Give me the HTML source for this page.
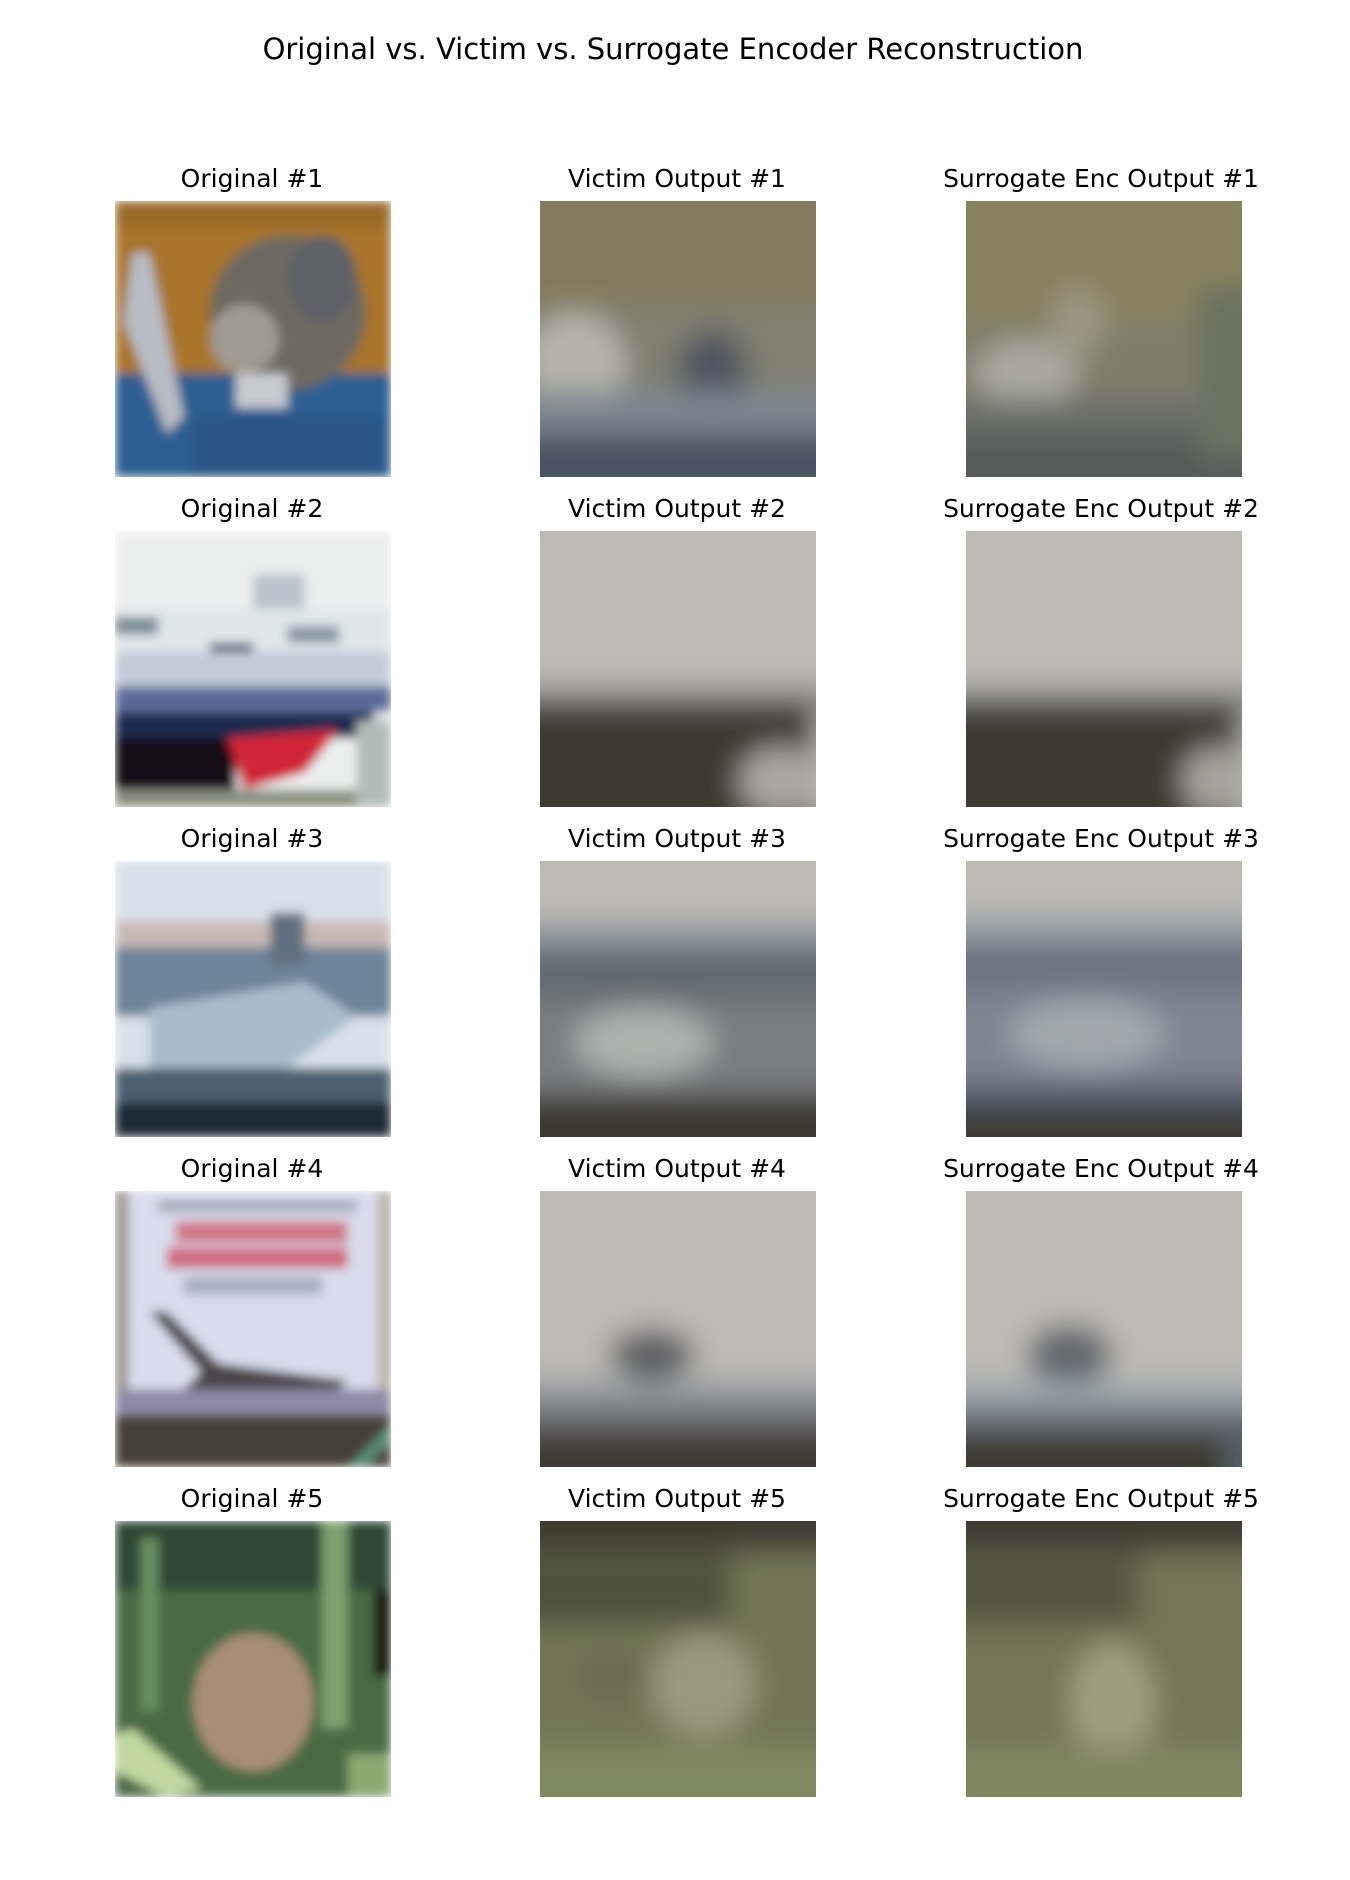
<!DOCTYPE html>
<html><head><meta charset="utf-8"><style>
html,body{margin:0;padding:0;background:#fff;}
svg text{font-family:"DejaVu Sans","Liberation Sans",sans-serif;fill:#000;}
</style></head><body>
<svg width="1350" height="1875" viewBox="0 0 1350 1875" xmlns="http://www.w3.org/2000/svg">
<defs>
<filter id="bl" x="-20%" y="-20%" width="140%" height="140%"><feGaussianBlur stdDeviation="1.6"/></filter>
<filter id="bs" x="-20%" y="-20%" width="140%" height="140%"><feGaussianBlur stdDeviation="0.6"/></filter>
<clipPath id="cp"><rect x="0" y="0" width="32" height="32"/></clipPath>
</defs>
<text x="673" y="59" font-size="29" text-anchor="middle">Original vs. Victim vs. Surrogate Encoder Reconstruction</text>

<!-- Row 1 -->
<text x="252" y="187" font-size="25" text-anchor="middle">Original #1</text>
<text x="677" y="187" font-size="25" text-anchor="middle">Victim Output #1</text>
<text x="1101" y="187" font-size="25" text-anchor="middle">Surrogate Enc Output #1</text>
<svg x="115" y="201" width="276" height="276" viewBox="0 0 32 32" preserveAspectRatio="none">
<g clip-path="url(#cp)" filter="url(#bs)">
<rect width="32" height="32" fill="#a8752a"/>
<rect y="0" width="32" height="3" fill="#9a6a2a"/>
<rect y="20" width="32" height="12" fill="#2f5f92"/>
<ellipse cx="20" cy="13" rx="9" ry="9" fill="#6e6a62"/>
<ellipse cx="24" cy="9" rx="4" ry="5" fill="#5e6268"/>
<ellipse cx="15" cy="16" rx="4" ry="4" fill="#a09a90"/>
<polygon points="2,6 4,6 8,25 6,27 1,14" fill="#b8bcc4"/>
<rect x="9" y="25" width="22" height="7" fill="#2a5585"/>
<rect x="14" y="20" width="6" height="4" fill="#c8cad0"/>
</g></svg>
<svg x="540" y="201" width="276" height="276" viewBox="0 0 32 32" preserveAspectRatio="none">
<g clip-path="url(#cp)" filter="url(#bl)">
<rect x="-4" y="-4" width="40" height="40" fill="#857a5e"/>
<rect x="-4" y="12" width="40" height="12" fill="#80806f"/>
<ellipse cx="4" cy="19" rx="6" ry="6" fill="#b5b4aa"/>
<ellipse cx="20" cy="20" rx="4" ry="5" fill="#4f5560"/>
<rect x="-4" y="22" width="40" height="5" fill="#7d8690"/>
<rect x="-4" y="27" width="40" height="9" fill="#4a5563"/>
</g></svg>
<svg x="966" y="201" width="276" height="276" viewBox="0 0 32 32" preserveAspectRatio="none">
<g clip-path="url(#cp)" filter="url(#bl)">
<rect x="-4" y="-4" width="40" height="40" fill="#88815f"/>
<rect x="-4" y="14" width="40" height="10" fill="#807e6a"/>
<ellipse cx="7" cy="20" rx="6" ry="4" fill="#a8a89c"/>
<ellipse cx="13" cy="14" rx="3" ry="4" fill="#9c9684"/>
<rect x="-4" y="23" width="40" height="4" fill="#6c6f6a"/>
<rect x="-4" y="27" width="40" height="9" fill="#555c5a"/>
<rect x="27" y="10" width="8" height="20" fill="#6b7260"/>
</g></svg>

<!-- Row 2 -->
<text x="252" y="517" font-size="25" text-anchor="middle">Original #2</text>
<text x="677" y="517" font-size="25" text-anchor="middle">Victim Output #2</text>
<text x="1101" y="517" font-size="25" text-anchor="middle">Surrogate Enc Output #2</text>
<svg x="115" y="531" width="276" height="276" viewBox="0 0 32 32" preserveAspectRatio="none">
<g clip-path="url(#cp)" filter="url(#bs)">
<rect width="32" height="32" fill="#eceeee"/>
<rect x="16" y="5" width="6" height="5" fill="#b8c4cc"/>
<rect x="0" y="9" width="32" height="5" fill="#dfe6ea"/>
<rect x="0" y="10" width="5" height="2" fill="#7a8a94"/>
<rect x="20" y="11" width="6" height="2" fill="#8898a4"/>
<rect x="11" y="13" width="5" height="2" fill="#42556a"/>
<rect x="0" y="14" width="32" height="4" fill="#c0ccd8"/>
<rect x="0" y="18" width="32" height="3" fill="#5c6a9a"/>
<rect x="0" y="21" width="30" height="3" fill="#1c2a50"/>
<rect x="0" y="24" width="14" height="7" fill="#120e12"/>
<polygon points="13,24 26,23 22,28 15,30" fill="#d02838"/>
<rect x="0" y="30" width="32" height="2" fill="#8a9080"/>
<rect x="28" y="22" width="4" height="10" fill="#b0bcb8"/>
</g></svg>
<svg x="540" y="531" width="276" height="276" viewBox="0 0 32 32" preserveAspectRatio="none">
<g clip-path="url(#cp)" filter="url(#bl)">
<rect x="-4" y="-4" width="40" height="40" fill="#bdbab4"/>
<rect x="-4" y="18" width="40" height="3" fill="#8a8a8a"/>
<rect x="-4" y="20" width="36" height="16" fill="#3e3a31"/>
<ellipse cx="28" cy="29" rx="5" ry="4" fill="#a8a8a0"/>
</g></svg>
<svg x="966" y="531" width="276" height="276" viewBox="0 0 32 32" preserveAspectRatio="none">
<g clip-path="url(#cp)" filter="url(#bl)">
<rect x="-4" y="-4" width="40" height="40" fill="#bdbab4"/>
<rect x="-4" y="18" width="40" height="3" fill="#8c8c8a"/>
<rect x="-4" y="20" width="36" height="16" fill="#3e3a31"/>
<ellipse cx="29" cy="29" rx="4" ry="4" fill="#a4a49c"/>
</g></svg>

<!-- Row 3 -->
<text x="252" y="847" font-size="25" text-anchor="middle">Original #3</text>
<text x="677" y="847" font-size="25" text-anchor="middle">Victim Output #3</text>
<text x="1101" y="847" font-size="25" text-anchor="middle">Surrogate Enc Output #3</text>
<svg x="115" y="861" width="276" height="276" viewBox="0 0 32 32" preserveAspectRatio="none">
<g clip-path="url(#cp)" filter="url(#bs)">
<rect width="32" height="32" fill="#d8e0ea"/>
<rect y="7" width="32" height="3" fill="#c8b8b4"/>
<rect y="10" width="32" height="8" fill="#6e8498"/>
<rect x="18" y="6" width="4" height="6" fill="#607080"/>
<polygon points="4,17 22,14 28,18 20,24 4,24" fill="#a8bccc"/>
<rect y="24" width="32" height="4" fill="#4c6070"/>
<rect y="28" width="32" height="4" fill="#1e2c34"/>
</g></svg>
<svg x="540" y="861" width="276" height="276" viewBox="0 0 32 32" preserveAspectRatio="none">
<g clip-path="url(#cp)" filter="url(#bl)">
<rect x="-4" y="-4" width="40" height="40" fill="#bdbab4"/>
<rect x="-4" y="7" width="40" height="4" fill="#8e98a0"/>
<rect x="-4" y="10" width="40" height="6" fill="#626a72"/>
<rect x="-4" y="16" width="40" height="11" fill="#7a7e80"/>
<ellipse cx="12" cy="21" rx="8" ry="4" fill="#aeb0ae"/>
<rect x="-4" y="27" width="40" height="9" fill="#3e3b31"/>
</g></svg>
<svg x="966" y="861" width="276" height="276" viewBox="0 0 32 32" preserveAspectRatio="none">
<g clip-path="url(#cp)" filter="url(#bl)">
<rect x="-4" y="-4" width="40" height="40" fill="#bdbab4"/>
<rect x="-4" y="6" width="40" height="3" fill="#9aa4aa"/>
<rect x="-4" y="9" width="40" height="6" fill="#6a7680"/>
<rect x="-4" y="15" width="40" height="12" fill="#7c8690"/>
<ellipse cx="14" cy="20" rx="9" ry="4" fill="#a0a8ae"/>
<rect x="-4" y="26" width="40" height="3" fill="#4e5866"/>
<rect x="-4" y="29" width="40" height="7" fill="#3e3b31"/>
</g></svg>

<!-- Row 4 -->
<text x="252" y="1177" font-size="25" text-anchor="middle">Original #4</text>
<text x="677" y="1177" font-size="25" text-anchor="middle">Victim Output #4</text>
<text x="1101" y="1177" font-size="25" text-anchor="middle">Surrogate Enc Output #4</text>
<svg x="115" y="1191" width="276" height="276" viewBox="0 0 32 32" preserveAspectRatio="none">
<g clip-path="url(#cp)" filter="url(#bs)">
<rect width="32" height="32" fill="#d8dcec"/>
<rect x="0" y="0" width="1.5" height="32" fill="#9a9488"/>
<rect x="30.5" y="0" width="1.5" height="32" fill="#b8b0a0"/>
<rect x="5" y="1" width="23" height="1.5" fill="#a8acbc"/>
<rect x="7" y="3.5" width="20" height="2.5" fill="#d07888"/>
<rect x="6" y="6.5" width="21" height="2.5" fill="#d06c80"/>
<rect x="8" y="10" width="16" height="2" fill="#a4acbc"/>
<polygon points="4,14 6,14 12,20 27,22 26,23 8,23 10,21" fill="#4c4648"/>
<rect y="23" width="32" height="3" fill="#8e8aa6"/>
<rect y="26" width="32" height="6" fill="#463f36"/>
<polygon points="27,32 32,27 32,29 29,32" fill="#5a9078"/>
</g></svg>
<svg x="540" y="1191" width="276" height="276" viewBox="0 0 32 32" preserveAspectRatio="none">
<g clip-path="url(#cp)" filter="url(#bl)">
<rect x="-4" y="-4" width="40" height="40" fill="#bdbab4"/>
<ellipse cx="13" cy="19" rx="5" ry="3" fill="#5e6064"/>
<rect x="-4" y="22" width="40" height="3" fill="#90989c"/>
<rect x="-4" y="25" width="40" height="3" fill="#6a6a6c"/>
<rect x="-4" y="28" width="40" height="8" fill="#3e3b31"/>
</g></svg>
<svg x="966" y="1191" width="276" height="276" viewBox="0 0 32 32" preserveAspectRatio="none">
<g clip-path="url(#cp)" filter="url(#bl)">
<rect x="-4" y="-4" width="40" height="40" fill="#bdbab4"/>
<ellipse cx="12" cy="19" rx="5" ry="3.5" fill="#62686e"/>
<rect x="-4" y="22" width="40" height="3" fill="#9aa6ac"/>
<rect x="-4" y="25" width="40" height="3" fill="#6a7078"/>
<rect x="-4" y="28" width="34" height="8" fill="#3e3b31"/>
<rect x="30" y="27" width="6" height="9" fill="#566068"/>
</g></svg>

<!-- Row 5 -->
<text x="252" y="1507" font-size="25" text-anchor="middle">Original #5</text>
<text x="677" y="1507" font-size="25" text-anchor="middle">Victim Output #5</text>
<text x="1101" y="1507" font-size="25" text-anchor="middle">Surrogate Enc Output #5</text>
<svg x="115" y="1521" width="276" height="276" viewBox="0 0 32 32" preserveAspectRatio="none">
<g clip-path="url(#cp)" filter="url(#bs)">
<rect width="32" height="32" fill="#4a6a44"/>
<rect x="0" y="0" width="32" height="8" fill="#2e4a34"/>
<rect x="3" y="2" width="2" height="20" fill="#6a9060"/>
<rect x="24" y="0" width="3" height="24" fill="#7ea070"/>
<rect x="30" y="8" width="2" height="10" fill="#141a10"/>
<ellipse cx="16" cy="21" rx="7" ry="8" fill="#a88e74"/>
<polygon points="0,25 2,24 10,31 6,32 0,29" fill="#c0d8a0"/>
<rect x="27" y="27" width="5" height="5" fill="#8aa870"/>
</g></svg>
<svg x="540" y="1521" width="276" height="276" viewBox="0 0 32 32" preserveAspectRatio="none">
<g clip-path="url(#cp)" filter="url(#bl)">
<rect x="-4" y="-4" width="40" height="40" fill="#727656"/>
<rect x="-4" y="4" width="26" height="8" fill="#50533e"/>
<ellipse cx="19" cy="19" rx="6" ry="6" fill="#9c9880"/>
<ellipse cx="8" cy="18" rx="4" ry="3" fill="#6a6a52"/>
<rect x="-4" y="26" width="40" height="10" fill="#80885e"/>
<rect x="-4" y="-4" width="40" height="7.5" fill="#3e3b31"/>
</g></svg>
<svg x="966" y="1521" width="276" height="276" viewBox="0 0 32 32" preserveAspectRatio="none">
<g clip-path="url(#cp)" filter="url(#bl)">
<rect x="-4" y="-4" width="40" height="40" fill="#747658"/>
<rect x="-4" y="4" width="24" height="8" fill="#545740"/>
<ellipse cx="17" cy="21" rx="5" ry="7" fill="#a09c80"/>
<rect x="-4" y="26" width="40" height="10" fill="#808660"/>
<rect x="-4" y="-4" width="40" height="7.5" fill="#3e3b31"/>
</g></svg>
</svg>
</body></html>
